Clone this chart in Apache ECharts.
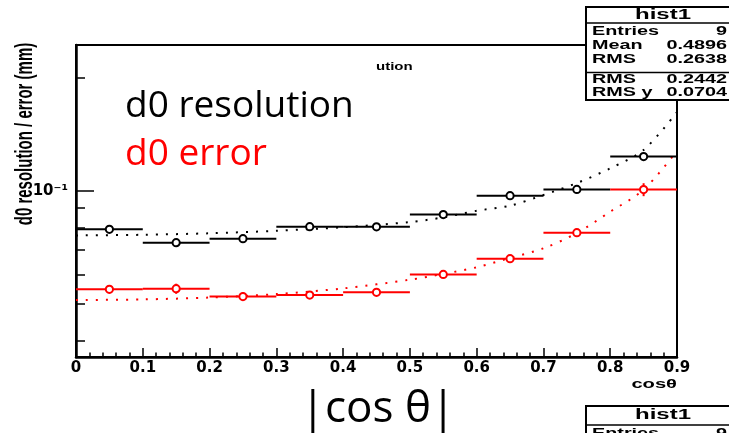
<!DOCTYPE html>
<html>
<head>
<meta charset="utf-8">
<script src="https://cdn.jsdelivr.net/npm/echarts@6/dist/echarts.min.js"></script>
<style>
  html, body { margin: 0; padding: 0; background: #fff; }
  #chart { width: 729px; height: 433px; }
</style>
</head>
<body>
<div id="chart"></div>
<script>
  // bins in |cos theta|
  const binEdges = [0, 0.1, 0.2, 0.3, 0.4, 0.5, 0.6, 0.7, 0.8, 0.9];
  // d0 resolution (mm), black
  const resValues = [0.0791, 0.0729, 0.0747, 0.0804, 0.0803, 0.0866, 0.0972, 0.1010, 0.1235];
  const resErrors = [0.0008, 0.0008, 0.0008, 0.0008, 0.0008, 0.0009, 0.0010, 0.0010, 0.0012];
  // d0 error (mm), red
  const errValues = [0.0548, 0.0550, 0.0524, 0.0529, 0.0538, 0.0600, 0.0661, 0.0775, 0.1009];
  const errErrors = [0.0013, 0.0017, 0.0014, 0.0010, 0.0007, 0.0007, 0.0008, 0.0010, 0.0040];
  // dotted fit curves
  const fitX   = [0, 0.1, 0.2, 0.3, 0.4, 0.5, 0.55, 0.6, 0.65, 0.7, 0.75, 0.8, 0.85, 0.9];
  const resFit = [0.0762, 0.0765, 0.0772, 0.0784, 0.0801, 0.0827, 0.0851, 0.0886, 0.0914, 0.0976, 0.1050, 0.1149, 0.1286, 0.1622];
  const errFit = [0.0513, 0.0515, 0.0521, 0.0532, 0.0551, 0.0581, 0.0602, 0.0627, 0.0664, 0.0704, 0.0773, 0.0881, 0.1008, 0.1278];
  // axis ticks
  const yMajorTicks = [0.1];
  const yMinorTicks = [0.04, 0.05, 0.06, 0.07, 0.08, 0.09, 0.2];
  // stats box
  const statsTitle = 'hist1';
  const statsRows = [['Entries', '9'], ['Mean', '0.4896'], ['RMS', '0.2638']];
  const fitRows = [['RMS', '0.2442'], ['RMS y', '0.0704']];

  const yMin = 0.0362, yMax = 0.2445;
  const RED = '#ff0000';

  function binData(values, errors) {
    return values.map((v, i) => [binEdges[i], binEdges[i + 1], v, errors[i]]);
  }

  function renderBin(params, api) {
    const lo = api.value(0), hi = api.value(1), y = api.value(2), e = api.value(3);
    const xc = (lo + hi) / 2;
    const l = api.coord([lo, y]);
    const r = api.coord([hi, y]);
    const t = api.coord([xc, y + e]);
    const b = api.coord([xc, y - e]);
    const c = api.coord([xc, y]);
    const color = api.visual('color');
    return {
      type: 'group',
      children: [
        { type: 'line', shape: { x1: l[0], y1: l[1], x2: r[0], y2: r[1] }, style: { stroke: color, lineWidth: 2 } },
        { type: 'line', shape: { x1: t[0], y1: t[1], x2: b[0], y2: b[1] }, style: { stroke: color, lineWidth: 2 } },
        { type: 'circle', shape: { cx: c[0], cy: c[1], r: 3.6 }, style: { fill: '#fff', stroke: color, lineWidth: 2 } }
      ]
    };
  }

  function statText(x, y, text, align, font, sx) {
    return {
      type: 'text', x: x, y: y, scaleX: sx, z: 102,
      style: { text: text, font: font, fill: '#000', textAlign: align, textVerticalAlign: 'middle' }
    };
  }

  const rowFont = 'bold 12px "Liberation Sans"';
  const titleFont = 'bold 15px "Liberation Sans"';
  const graphics = [
    // y axis title
    {
      type: 'text', x: 25, y: 134, rotation: Math.PI / 2, scaleY: 1.6, z: 50,
      style: { text: 'd0 resolution / error (mm)', font: 'bold 15px "Liberation Sans"', fill: '#000',
               textAlign: 'center', textVerticalAlign: 'middle' }
    },
    // fragment of the root title
    statText(376, 67, 'ution', 'left', 'bold 10px "Liberation Sans"', 1.5),
    // x axis title
    statText(677, 384, 'cosθ', 'right', 'bold 13px "Liberation Sans"', 1.55),
    {
      type: 'text', x: 378, y: 409, z: 50,
      style: { text: '|cos θ|', font: '44px "Open Sans"', fill: '#000', textAlign: 'center', textVerticalAlign: 'middle' }
    },
    // stats box top right
    { type: 'rect', z: 100, shape: { x: 586, y: 7, width: 160, height: 93 },
      style: { fill: '#fff', stroke: '#000', lineWidth: 2 } },
    { type: 'line', z: 101, shape: { x1: 586, y1: 23, x2: 746, y2: 23 }, style: { stroke: '#000', lineWidth: 1.5 } },
    { type: 'line', z: 101, shape: { x1: 586, y1: 72.5, x2: 746, y2: 72.5 }, style: { stroke: '#000', lineWidth: 1.5 } },
    statText(663, 15, statsTitle, 'center', titleFont, 1.6),
    // stats box bottom right
    { type: 'rect', z: 100, shape: { x: 586, y: 406, width: 160, height: 40 },
      style: { fill: '#fff', stroke: '#000', lineWidth: 2 } },
    { type: 'line', z: 101, shape: { x1: 586, y1: 425, x2: 746, y2: 425 }, style: { stroke: '#000', lineWidth: 1.5 } },
    statText(663, 415, statsTitle, 'center', titleFont, 1.6),
    statText(592, 434, 'Entries', 'left', rowFont, 1.65),
    statText(727, 434, '9', 'right', rowFont, 1.65)
  ];
  statsRows.forEach((row, i) => {
    graphics.push(statText(592, 32 + i * 14, row[0], 'left', rowFont, 1.65));
    graphics.push(statText(727, 32 + i * 14, row[1], 'right', rowFont, 1.65));
  });
  fitRows.forEach((row, i) => {
    graphics.push(statText(592, 80 + i * 13, row[0], 'left', rowFont, 1.65));
    graphics.push(statText(727, 80 + i * 13, row[1], 'right', rowFont, 1.65));
  });

  const chart = echarts.init(document.getElementById('chart'));

  const option = {
    animation: false,
    backgroundColor: '#fff',
    grid: { left: 76, right: 52, top: 45, bottom: 76, show: true, borderColor: '#000', borderWidth: 2 },
    legend: {
      orient: 'vertical', left: 115, top: 77, itemGap: 0, itemWidth: 0, itemHeight: 0, icon: 'none',
      selectedMode: false,
      textStyle: { fontFamily: 'Open Sans', fontSize: 37, lineHeight: 48 },
      data: [
        { name: 'd0 resolution', textStyle: { color: '#000' } },
        { name: 'd0 error', textStyle: { color: RED } }
      ]
    },
    xAxis: {
      type: 'value', min: 0, max: 0.9, interval: 0.1,
      axisLine: { lineStyle: { color: '#000', width: 2.5 } },
      axisTick: { inside: true, length: 9, lineStyle: { color: '#000', width: 1.5 } },
      minorTick: { show: true, splitNumber: 5, length: 4.5, lineStyle: { color: '#000', width: 1.5 } },
      axisLabel: { color: '#000', fontFamily: 'DejaVu Sans', fontWeight: 'bold', fontSize: 15, margin: 4,
                   formatter: v => (Math.round(v * 10) / 10).toString() },
      splitLine: { show: false }
    },
    yAxis: [{
      type: 'log', min: yMin, max: yMax, position: 'left',
      axisLine: { show: true, lineStyle: { color: '#000', width: 2.5 } },
      axisTick: { inside: true, length: 18, customValues: yMajorTicks, lineStyle: { color: '#000', width: 1.5 } },
      axisLabel: { customValues: yMajorTicks, margin: 8, color: '#000', fontFamily: 'DejaVu Sans',
                   fontWeight: 'bold', fontSize: 15, formatter: () => '10⁻¹' },
      splitLine: { show: false }
    }, {
      type: 'log', min: yMin, max: yMax, position: 'left',
      axisLine: { show: false },
      axisTick: { inside: true, length: 9, customValues: yMinorTicks, lineStyle: { color: '#000', width: 1.5 } },
      axisLabel: { show: false },
      splitLine: { show: false }
    }],
    series: [
      {
        name: 'd0 resolution fit', type: 'line', smooth: 0.3, showSymbol: false, symbol: 'none',
        data: fitX.map((x, i) => [x, resFit[i]]),
        lineStyle: { color: '#000', width: 2, type: [2, 8] }, z: 2
      },
      {
        name: 'd0 error fit', type: 'line', smooth: 0.3, showSymbol: false, symbol: 'none',
        data: fitX.map((x, i) => [x, errFit[i]]),
        lineStyle: { color: RED, width: 2, type: [2, 8] }, z: 2
      },
      {
        name: 'd0 resolution', type: 'custom', renderItem: renderBin, itemStyle: { color: '#000' },
        encode: { x: [0, 1], y: 2 }, data: binData(resValues, resErrors), z: 3
      },
      {
        name: 'd0 error', type: 'custom', renderItem: renderBin, itemStyle: { color: RED },
        encode: { x: [0, 1], y: 2 }, data: binData(errValues, errErrors), z: 3
      }
    ],
    graphic: { elements: graphics }
  };

  chart.setOption(option);
</script>
</body>
</html>
